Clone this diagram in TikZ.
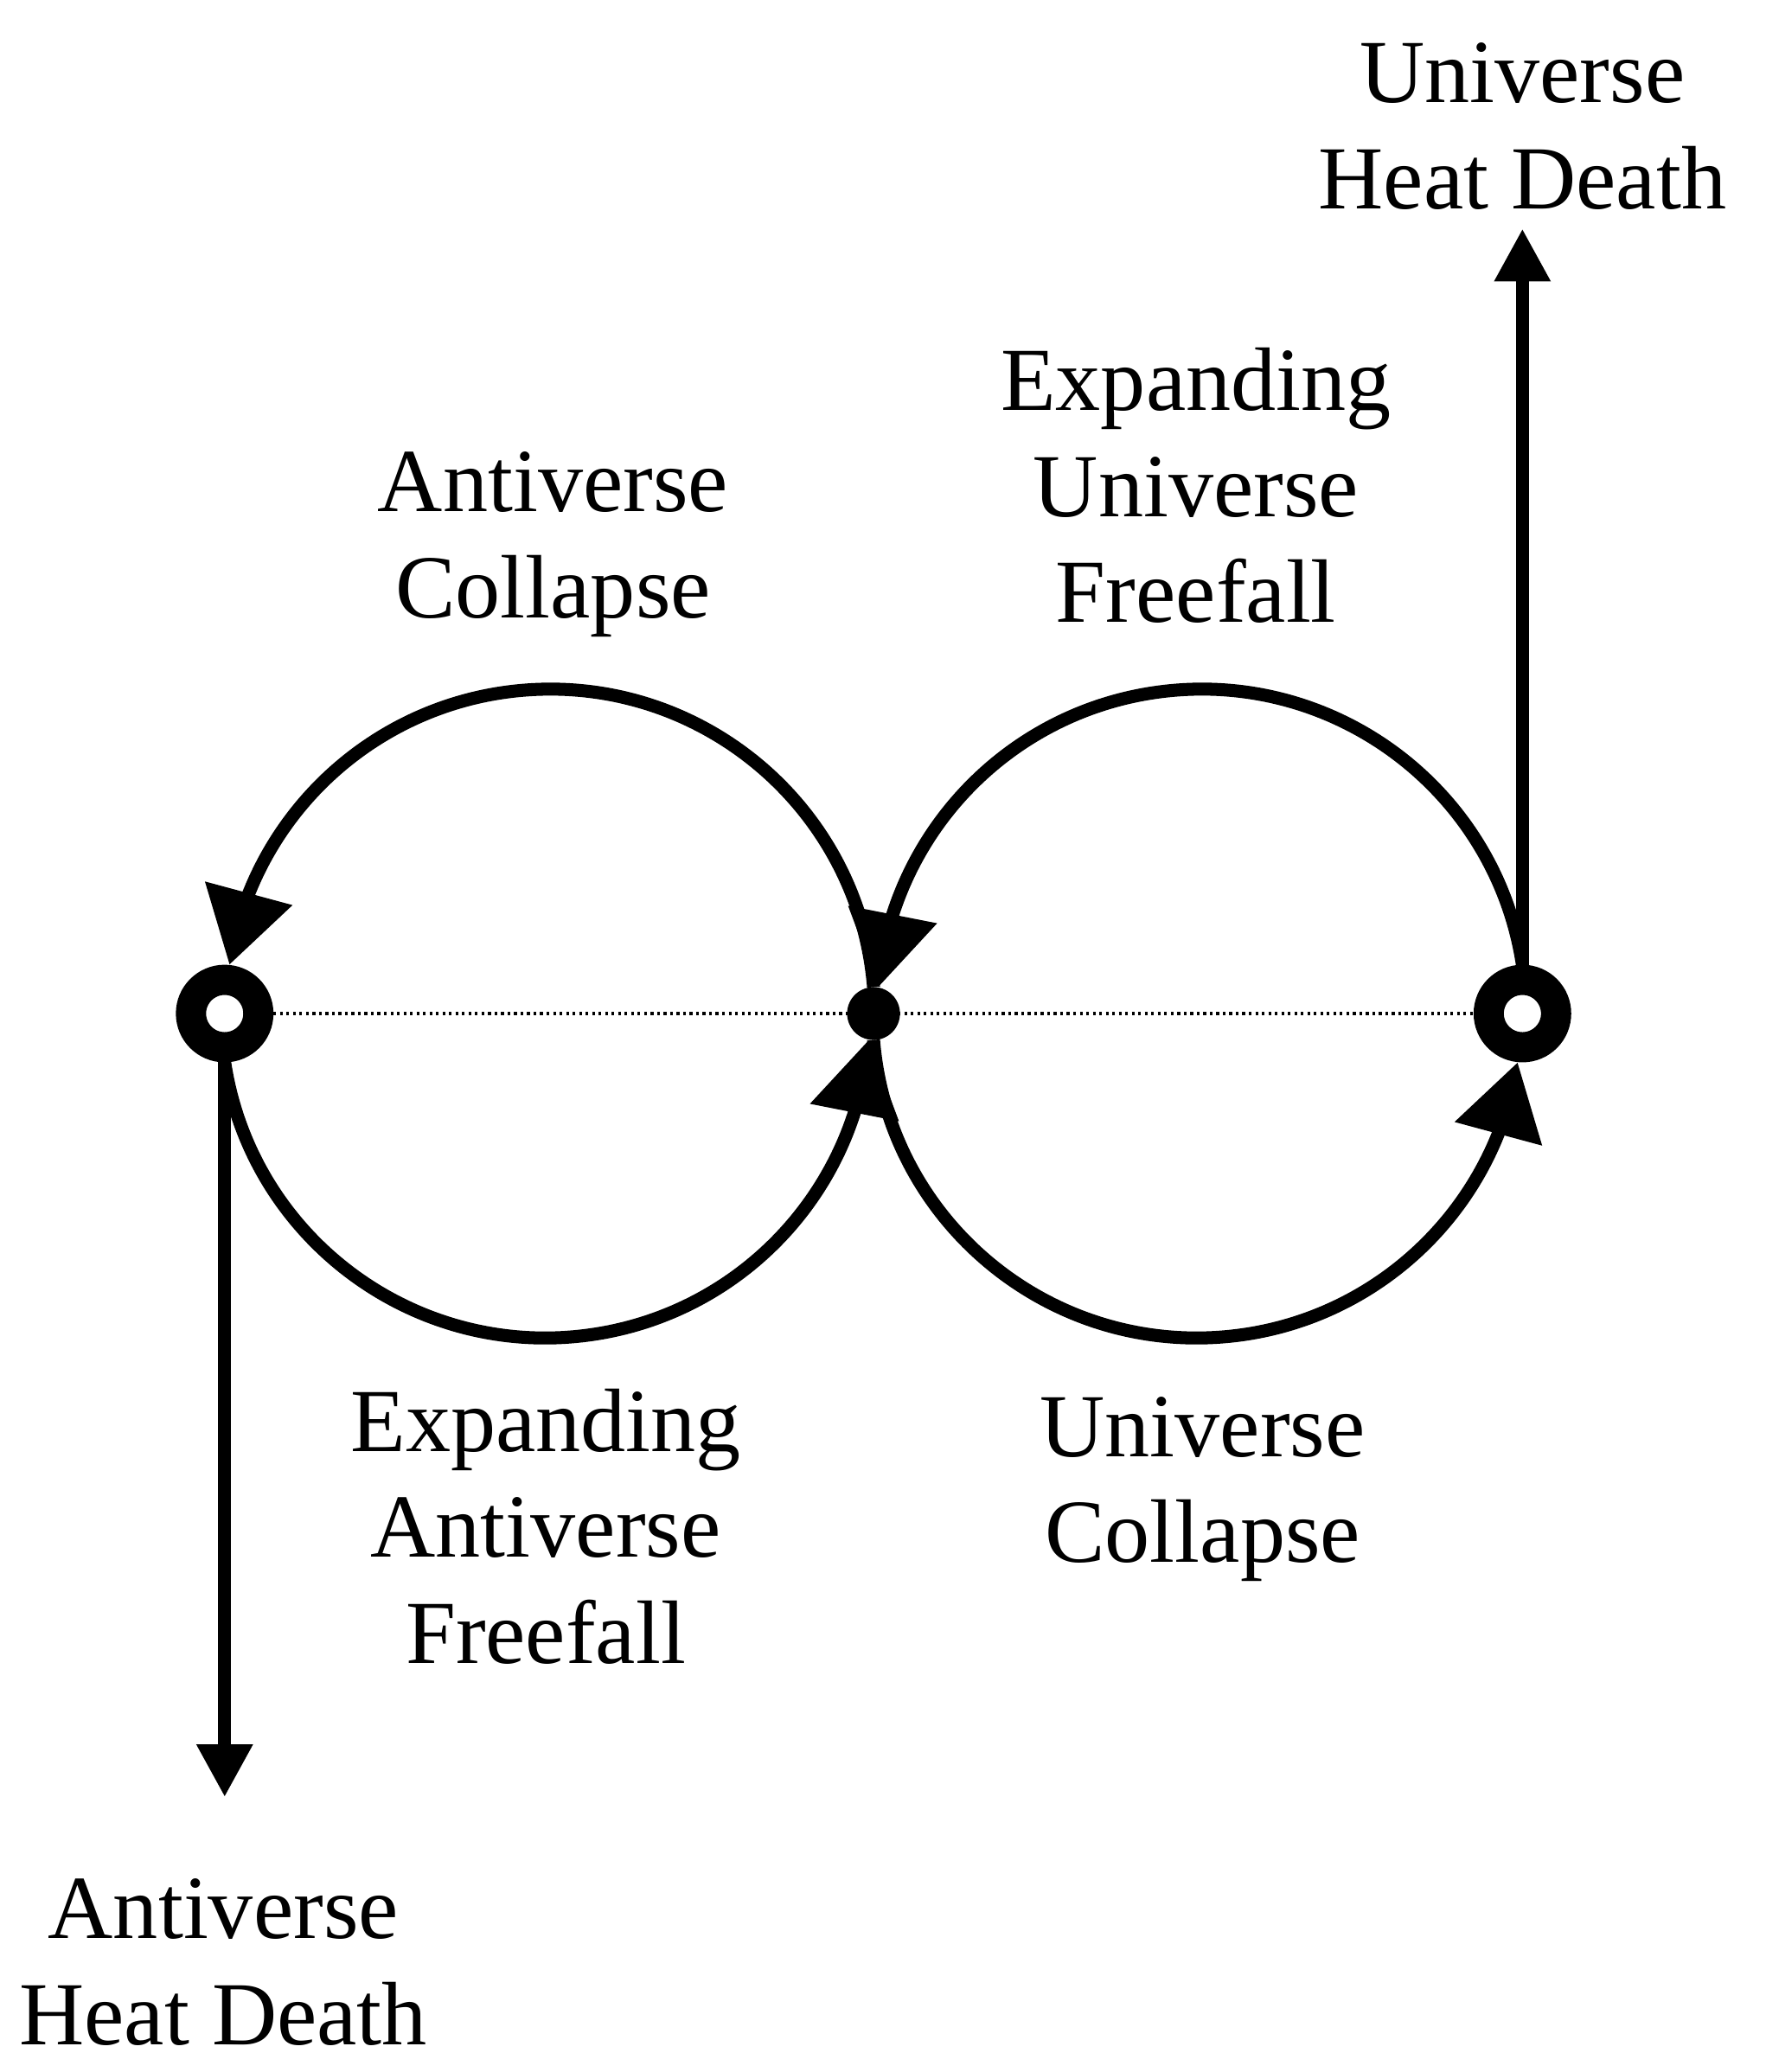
\documentclass[tikz,border=0pt]{standalone}
\usepackage{fontspec}
\setmainfont{Liberation Serif}
\usetikzlibrary{arrows.meta,bending}

\tikzset{
	flow/.style={line width=2.8pt,-{Triangle[length=4mm,width=4mm]}},
	loopflow/.style={line width=2.8pt,-{Triangle[length=5.6mm,width=6.6mm]}},
	endpt/.style={circle,draw,fill=white,line width=6.5pt,minimum size=5.1mm,inner sep=0pt},
	hub/.style={circle,fill,minimum size=4mm,inner sep=0pt,outer sep=0pt},
	lbl/.style={align=center,font=\fontsize{19.4}{22.8}\selectfont,inner sep=0pt},
}

\begin{document}
\begin{tikzpicture}
	\useasboundingbox (0,0) rectangle (13.36,-15.68);
	\def\rad{2.455}
	\node[endpt] (L) at (1.70,-7.67) {};
	\node[hub] (M) at (6.61,-7.67) {};
	\node[endpt] (R) at (11.52,-7.67) {};
	\coordinate (utop) at (11.52,-1.73);
	\coordinate (abot) at (1.70,-13.60);
	\draw[line width=0.6pt,dash pattern=on 0.6pt off 0.8pt] (L) -- (R);
	\draw[loopflow] (M.north) arc[start angle=4.67,end angle=171.35,radius=\rad];
	\draw[loopflow] (R.north) arc[start angle=8.65,end angle=175.33,radius=\rad];
	\draw[loopflow] (L.south) arc[start angle=188.65,end angle=355.33,radius=\rad];
	\draw[loopflow] (M.south) arc[start angle=184.67,end angle=351.35,radius=\rad];
	\draw[flow] (R) -- (utop);
	\draw[flow] (L) -- (abot);
	\node[lbl] (uhd) at (11.52,-0.955) {Universe\\Heat Death};
	\node[lbl] (euf) at (9.05,-3.675) {Expanding\\Universe\\Freefall};
	\node[lbl] (acol) at (4.185,-4.12) {Antiverse\\Collapse};
	\node[lbl] (eaf) at (4.13,-11.55) {Expanding\\Antiverse\\Freefall};
	\node[lbl] (ucol) at (9.10,-11.27) {Universe\\Collapse};
	\node[lbl] (ahd) at (1.69,-14.85) {Antiverse\\Heat Death};
\end{tikzpicture}
\end{document}
